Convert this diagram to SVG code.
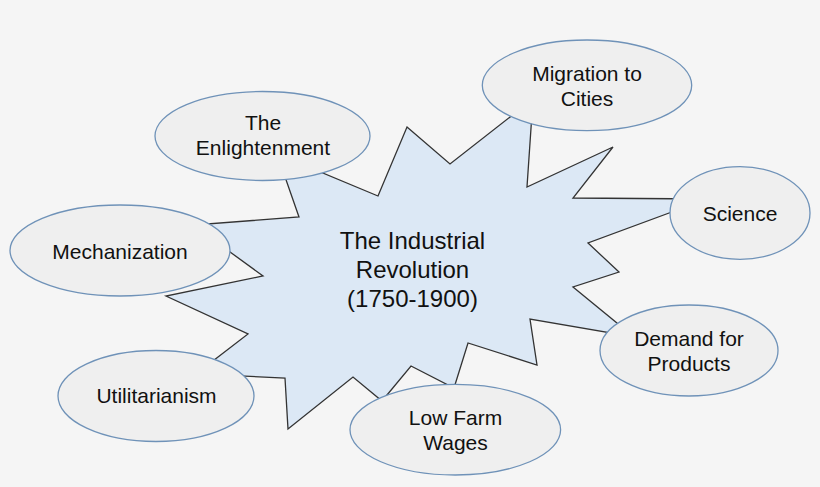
<svg xmlns="http://www.w3.org/2000/svg" width="820" height="487" viewBox="0 0 820 487">
<style>
.bg{fill:#f5f5f5}
.star{fill:#dce8f5;stroke:#333333;stroke-width:1.3;stroke-linejoin:miter}
.node ellipse{fill:#efefef;stroke:#6f92b8;stroke-width:1.3}
text{font-family:"Liberation Sans",Arial,sans-serif;fill:#111111;text-anchor:middle}
.n{font-size:21px}
.c{font-size:24px}
</style>
<rect class="bg" x="0" y="0" width="820" height="487"/>
<g id="connectors">
<g id="center">
<polygon class="star" points="407,127 450,164 533,99 527,187 613,147 573,198 707,199 588,243 619,272 573,287 634,337 530,319 537,365 468,343 454,388 411,366 382,401 353,377 288,429 285,378 196,374 248,334 166,296 263,276 193,225 299,217 277,154 378,196"/>
<text class="c" x="412.5" y="249">The Industrial</text>
<text class="c" x="412.5" y="278">Revolution</text>
<text class="c" x="412.5" y="307">(1750-1900)</text>
</g>
</g>
<g id="enlightenment" class="node">
<ellipse cx="262.5" cy="136" rx="107.5" ry="44.5"/>
<text class="n" x="263" y="130">The</text>
<text class="n" x="263" y="155">Enlightenment</text>
</g>
<g id="migration" class="node">
<ellipse cx="587" cy="85.3" rx="104.7" ry="45.3"/>
<text class="n" x="587" y="81">Migration to</text>
<text class="n" x="587" y="106">Cities</text>
</g>
<g id="science" class="node">
<ellipse cx="740" cy="213" rx="70" ry="46.3"/>
<text class="n" x="740" y="221">Science</text>
</g>
<g id="mechanization" class="node">
<ellipse cx="120" cy="250.5" rx="110" ry="45.5"/>
<text class="n" x="120" y="259">Mechanization</text>
</g>
<g id="demand" class="node">
<ellipse cx="689" cy="350.5" rx="89" ry="45.5"/>
<text class="n" x="689" y="346">Demand for</text>
<text class="n" x="689" y="371">Products</text>
</g>
<g id="utilitarianism" class="node">
<ellipse cx="156" cy="396" rx="98" ry="45.5"/>
<text class="n" x="156.5" y="403">Utilitarianism</text>
</g>
<g id="lowfarm" class="node">
<ellipse cx="455.3" cy="429.7" rx="105.3" ry="45.3"/>
<text class="n" x="455.5" y="425">Low Farm</text>
<text class="n" x="455.5" y="450">Wages</text>
</g>
</svg>
